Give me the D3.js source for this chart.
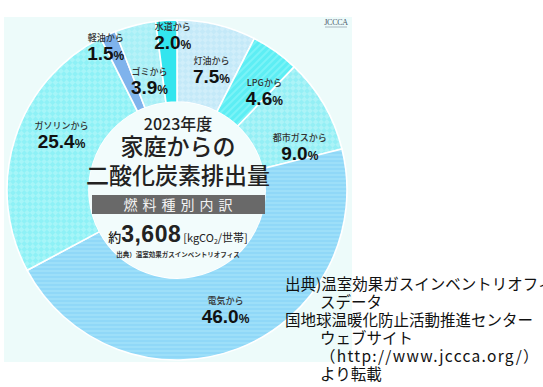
<!DOCTYPE html>
<html>
<head>
<meta charset="utf-8">
<script src="https://cdn.jsdelivr.net/npm/d3@7/dist/d3.min.js"></script>
<style>
  html, body { margin: 0; padding: 0; background: #ffffff; }
  svg { display: block; }
</style>
</head>
<body>
<svg id="chart" width="543" height="387"></svg>
<script>
// Household CO2 emissions by fuel type, FY2023 (share of total, %)
const categories = ["灯油から", "LPGから", "都市ガスから", "電気から", "ガソリンから", "軽油から", "ゴミから", "水道から"];
const shares = [7.5, 4.6, 9.0, 46.0, 25.4, 1.5, 3.9, 2.0];
const shareLabels = ["7.5", "4.6", "9.0", "46.0", "25.4", "1.5", "3.9", "2.0"];
const centerTitle = ["2023年度", "家庭からの", "二酸化炭素排出量"];
const centerBand = "燃料種別内訳";
const totalPerHousehold = 3608;
const sourceLines = [
  "出典)温室効果ガスインベントリオフィ",
  "スデータ",
  "国地球温暖化防止活動推進センター",
  "ウェブサイト",
  "（http://www.jccca.org/）",
  "より転載"
];

// Fill for each slice: base colour, secondary colour and texture kind
const sliceStyle = {
  "灯油から":     { base: "#c4e9f8", alt: "#d0eefa", kind: "checker" },
  "LPGから":      { base: "#5deef4", alt: "#7af3f7", kind: "diag" },
  "都市ガスから": { base: "#acf3f7", alt: "#94eff5", kind: "checker" },
  "電気から":     { base: "#90d8f8", alt: "#9ddff9", kind: "hstripe" },
  "ガソリンから": { base: "#a6f5f8", alt: "#8ef1f6", kind: "checker" },
  "軽油から":     { base: "#7fb3ec", alt: "#7fb3ec", kind: "solid" },
  "ゴミから":     { base: "#b6f2f8", alt: "#a6eff6", kind: "checker" },
  "水道から":     { base: "#33e5ee", alt: "#33e5ee", kind: "solid" }
};
// Where each slice label sits: radius from centre and angular nudge (degrees)
const labelPlace = {
  "灯油から":     { r: 125, shift: 2.5 },
  "LPGから":      { r: 131, shift: 6.5 },
  "都市ガスから": { r: 130, shift: 11 },
  "電気から":     { r: 129, shift: -1 },
  "ガソリンから": { r: 128, shift: 8 },
  "軽油から":     { r: 160, shift: -2.5 },
  "ゴミから":     { r: 112, shift: 0 },
  "水道から":     { r: 154, shift: 2 }
};

const svg = d3.select("#chart");
const cx = 177, cy = 190, rOuter = 170, rInner = 88;
const jp = "'Noto Sans CJK JP', 'Noto Sans', sans-serif";

// Panel behind the donut
const panel = { x: 4, y: 17, w: 348, h: 345 };
svg.append("rect")
  .attr("x", panel.x).attr("y", panel.y)
  .attr("width", panel.w).attr("height", panel.h)
  .attr("fill", "#edfbfa");

const defs = svg.append("defs");
defs.append("clipPath").attr("id", "panelClip")
  .append("rect")
  .attr("x", panel.x).attr("y", panel.y)
  .attr("width", panel.w).attr("height", panel.h);

// Textures
categories.forEach((c, i) => {
  const s = sliceStyle[c];
  const id = "pat" + i;
  if (s.kind === "checker") {
    const p = defs.append("pattern").attr("id", id)
      .attr("patternUnits", "userSpaceOnUse")
      .attr("width", 8).attr("height", 8)
      .attr("patternTransform", "rotate(45)");
    p.append("rect").attr("width", 8).attr("height", 8).attr("fill", s.base);
    p.append("rect").attr("width", 4).attr("height", 4).attr("fill", s.alt);
    p.append("rect").attr("x", 4).attr("y", 4).attr("width", 4).attr("height", 4).attr("fill", s.alt);
  } else if (s.kind === "diag") {
    const p = defs.append("pattern").attr("id", id)
      .attr("patternUnits", "userSpaceOnUse")
      .attr("width", 5).attr("height", 5)
      .attr("patternTransform", "rotate(-45)");
    p.append("rect").attr("width", 5).attr("height", 5).attr("fill", s.base);
    p.append("rect").attr("width", 5).attr("height", 2).attr("fill", s.alt);
  } else if (s.kind === "hstripe") {
    const p = defs.append("pattern").attr("id", id)
      .attr("patternUnits", "userSpaceOnUse")
      .attr("width", 4).attr("height", 4);
    p.append("rect").attr("width", 4).attr("height", 4).attr("fill", s.base);
    p.append("rect").attr("width", 4).attr("height", 2).attr("fill", s.alt);
  }
});
const fillOf = (c, i) => sliceStyle[c].kind === "solid" ? sliceStyle[c].base : `url(#pat${i})`;

// Donut
const pie = d3.pie().sort(null).value(d => d.v)
  .startAngle(0).endAngle(2 * Math.PI);
const data = pie(categories.map((c, i) => ({ c, v: shares[i], lab: shareLabels[i], i })));
const arc = d3.arc().innerRadius(rInner).outerRadius(rOuter);

const g = svg.append("g").attr("clip-path", "url(#panelClip)")
  .append("g").attr("transform", `translate(${cx},${cy})`);

g.selectAll("path.slice").data(data).enter().append("path")
  .attr("class", "slice")
  .attr("d", arc)
  .attr("fill", d => fillOf(d.data.c, d.data.i))
  .attr("stroke", "#ffffff")
  .attr("stroke-width", 1.6);

// Inner disc
g.append("circle").attr("r", rInner).attr("fill", "#f2fcfc");

// Slice labels
const labels = g.selectAll("g.lab").data(data).enter().append("g")
  .attr("class", "lab")
  .attr("transform", d => {
    const lp = labelPlace[d.data.c];
    const a = (d.startAngle + d.endAngle) / 2 + lp.shift * Math.PI / 180;
    return `translate(${lp.r * Math.sin(a)},${-lp.r * Math.cos(a)})`;
  });
labels.append("text")
  .attr("text-anchor", "middle")
  .attr("y", -6)
  .attr("font-family", jp)
  .attr("font-size", 9)
  .attr("font-weight", 500)
  .attr("fill", "#333")
  .text(d => d.data.c);
const num = labels.append("text")
  .attr("text-anchor", "middle")
  .attr("y", 13)
  .attr("fill", "#111");
num.append("tspan")
  .attr("font-family", "'Liberation Sans', Arial, sans-serif")
  .attr("font-weight", "bold")
  .attr("font-size", 19)
  .text(d => d.data.lab);
num.append("tspan")
  .attr("font-family", "'Liberation Sans', Arial, sans-serif")
  .attr("font-weight", "bold")
  .attr("font-size", 12)
  .text("%");

// Centre heading
const ctr = svg.append("g").attr("transform", `translate(${cx + 1},0)`);
ctr.append("text").attr("text-anchor", "middle").attr("y", 130)
  .attr("font-family", jp).attr("font-size", 16).attr("font-weight", 500)
  .attr("fill", "#222").text(centerTitle[0]);
ctr.append("text").attr("text-anchor", "middle").attr("y", 155)
  .attr("font-family", jp).attr("font-size", 23).attr("font-weight", 500)
  .attr("fill", "#222").text(centerTitle[1]);
ctr.append("text").attr("text-anchor", "middle").attr("y", 184)
  .attr("font-family", jp).attr("font-size", 23).attr("font-weight", 500)
  .attr("fill", "#222").text(centerTitle[2]);

ctr.append("rect").attr("x", 92 - cx - 1).attr("y", 195)
  .attr("width", 173).attr("height", 19).attr("fill", "#696969");
ctr.append("text").attr("text-anchor", "middle").attr("y", 210)
  .attr("font-family", jp).attr("font-size", 14).attr("letter-spacing", 5)
  .attr("dx", 2.5)
  .attr("fill", "#f2f2f2").text(centerBand);

const tot = ctr.append("text").attr("text-anchor", "middle").attr("y", 242)
  .attr("fill", "#222");
tot.append("tspan").attr("font-family", jp).attr("font-size", 13).attr("font-weight", 500).text("約");
tot.append("tspan").attr("font-family", "'Liberation Sans', Arial, sans-serif")
  .attr("font-weight", "bold").attr("font-size", 23).attr("letter-spacing", 0.5)
  .text(d3.format(",")(totalPerHousehold));
tot.append("tspan").attr("font-family", jp).attr("font-size", 11).attr("dx", 2).text("[kgCO");
tot.append("tspan").attr("font-family", jp).attr("font-size", 7).attr("dy", 1.5).text("2");
tot.append("tspan").attr("font-family", jp).attr("font-size", 11).attr("dy", -1.5).text("/世帯]");

ctr.append("text").attr("text-anchor", "middle").attr("y", 257)
  .attr("font-family", jp).attr("font-size", 6.5).attr("font-weight", 700)
  .attr("fill", "#333").text("出典）温室効果ガスインベントリオフィス");

// Organisation mark in the corner
const logo = svg.append("g").attr("transform", "translate(336,25)");
logo.append("text").attr("text-anchor", "middle")
  .attr("font-family", "'Liberation Serif', serif").attr("font-size", 8)
  .attr("fill", "#4a5a6a").attr("letter-spacing", -0.3).text("JCCCA");
logo.append("line").attr("x1", -11).attr("x2", 11).attr("y1", 2).attr("y2", 2)
  .attr("stroke", "#7a8a9a").attr("stroke-width", 0.6);

// Source note
const indent = [0, 1, 0, 1, 1, 1];
const src = svg.append("g");
src.selectAll("text").data(sourceLines).enter().append("text")
  .attr("x", (d, i) => indent[i] ? 320 : 285)
  .attr("y", (d, i) => 290 + i * 18)
  .attr("font-family", jp)
  .attr("font-size", 15.5)
  .attr("letter-spacing", d => /http/.test(d) ? 1.3 : 0)
  .attr("fill", "#111")
  .text(d => d);
</script>
</body>
</html>
